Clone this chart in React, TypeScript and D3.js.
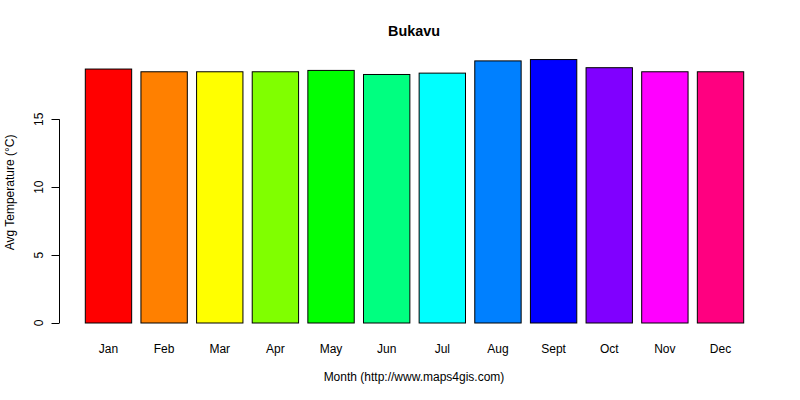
import * as d3 from 'd3';

const months = ["Jan", "Feb", "Mar", "Apr", "May", "Jun", "Jul", "Aug", "Sept", "Oct", "Nov", "Dec"];
const temps = [18.7, 18.5, 18.5, 18.5, 18.6, 18.3, 18.4, 19.3, 19.4, 18.8, 18.5, 18.5];
const barColors = ["#FF0000", "#FF8000", "#FFFF00", "#80FF00", "#00FF00", "#00FF80",
  "#00FFFF", "#0080FF", "#0000FF", "#8000FF", "#FF00FF", "#FF0080"];
const yTicks = [0, 5, 10, 15];

export default function App() {
  const width = 800;
  const height = 400;
  const font = "'Liberation Sans', Arial, sans-serif";

  // R barplot: width 1, space 0.2
  const x = d3.scaleBand<string>()
    .domain(months)
    .range([85.3, 743.7])
    .paddingInner(0.2 / 1.2)
    .paddingOuter(0);

  const y = d3.scaleLinear().domain([0, 15]).range([323, 119.3]);

  const axisX = 59.5;
  const plotCenterX = 414;

  return (
    <svg width={width} height={height} style={{ position: 'absolute', left: 0, top: 0, background: '#fff' }}
      fontFamily={font}>
      <text x={plotCenterX} y={36} textAnchor="middle" fontWeight="bold" fontSize={14.4}>Bukavu</text>

      {/* bars */}
      <g>
        {months.map((m, i) => (
          <rect key={m}
            x={x(m)!} y={y(temps[i])}
            width={x.bandwidth()} height={y(0) - y(temps[i])}
            fill={barColors[i]} stroke="#000" strokeWidth={1} />
        ))}
      </g>

      {/* y axis */}
      <g stroke="#000" strokeWidth={1}>
        <line x1={axisX} x2={axisX} y1={y(0)} y2={y(15)} />
        {yTicks.map(t => (
          <line key={t} x1={axisX - 8} x2={axisX} y1={Math.round(y(t)) + 0.5} y2={Math.round(y(t)) + 0.5} />
        ))}
      </g>
      {yTicks.map(t => (
        <text key={t} transform={`translate(42.5,${y(t)}) rotate(-90)`} textAnchor="middle" fontSize={12}>{t}</text>
      ))}
      <text transform={`translate(13.5,192.5) rotate(-90)`} textAnchor="middle" fontSize={12}>Avg Temperature (°C)</text>

      {/* month labels */}
      {months.map(m => (
        <text key={m} x={x(m)! + x.bandwidth() / 2} y={353} textAnchor="middle" fontSize={12}>{m}</text>
      ))}
      <text x={plotCenterX} y={381} textAnchor="middle" fontSize={12}>Month (http://www.maps4gis.com)</text>
    </svg>
  );
}
